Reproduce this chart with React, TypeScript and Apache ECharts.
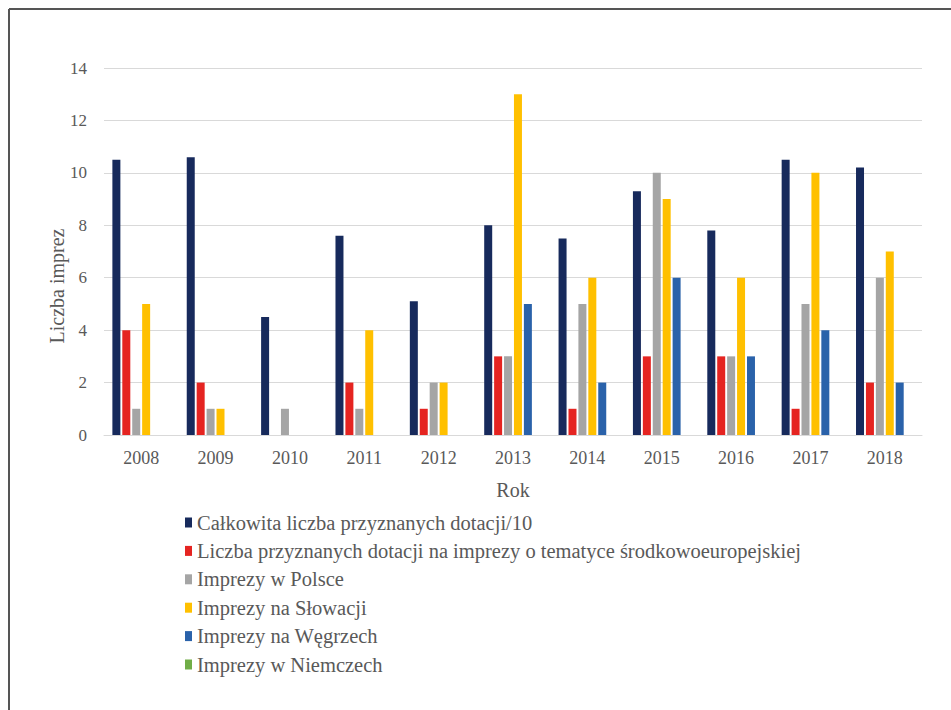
import React, { useEffect, useRef } from "react";
import * as echarts from "echarts";

const years = ["2008", "2009", "2010", "2011", "2012", "2013", "2014", "2015", "2016", "2017", "2018"];
const seriesNames = [
  "Całkowita liczba przyznanych dotacji/10",
  "Liczba przyznanych dotacji na imprezy o tematyce środkowoeuropejskiej",
  "Imprezy w Polsce",
  "Imprezy na Słowacji",
  "Imprezy na Węgrzech",
  "Imprezy w Niemczech",
];
const totalGrants = [10.5, 10.6, 4.5, 7.6, 5.1, 8, 7.5, 9.3, 7.8, 10.5, 10.2];
const ceGrants = [4, 2, 0, 2, 1, 3, 1, 3, 3, 1, 2];
const poland = [1, 1, 1, 1, 2, 3, 5, 10, 3, 5, 6];
const slovakia = [5, 1, 0, 4, 2, 13, 6, 9, 6, 10, 7];
const hungary = [0, 0, 0, 0, 0, 5, 2, 6, 3, 4, 2];
const germany = [0, 0, 0, 0, 0, 0, 0, 0, 0, 0, 0];
const seriesValues = [totalGrants, ceGrants, poland, slovakia, hungary, germany];
const colors = ["#172a5c", "#e52421", "#a5a5a5", "#ffc000", "#2a62aa", "#70ad47"];
const yTicks = { min: 0, max: 14, interval: 2 };

const FONT = "Liberation Serif";
const TXT = "#595959";

export default function App() {
  const ref = useRef<HTMLDivElement>(null);
  useEffect(() => {
    if (!ref.current) return;
    const chart = echarts.init(ref.current, undefined, { renderer: "svg" });
    chart.setOption({
      animation: false,
      backgroundColor: "#ffffff",
      textStyle: { fontFamily: FONT },
      grid: { left: 104, right: 29, top: 68, bottom: 275, containLabel: false },
      xAxis: {
        type: "category",
        data: years,
        axisLine: { show: true, lineStyle: { color: "#d9d9d9", width: 1 } },
        axisTick: { show: false },
        axisLabel: { color: TXT, fontFamily: FONT, fontSize: 18, margin: 14 },
      },
      yAxis: {
        type: "value",
        min: yTicks.min,
        max: yTicks.max,
        interval: yTicks.interval,
        axisLine: { show: false },
        axisTick: { show: false },
        splitLine: { lineStyle: { color: "#d9d9d9", width: 1 } },
        axisLabel: { color: TXT, fontFamily: FONT, fontSize: 17, margin: 17 },
      },
      legend: {
        orient: "vertical",
        left: 180,
        top: 507,
        itemWidth: 7,
        itemHeight: 10,
        itemGap: 7.4,
        icon: "rect",
        textStyle: { color: TXT, fontFamily: FONT, fontSize: 20.5, lineHeight: 20 },
        data: seriesNames,
      },
      graphic: [
        {
          type: "text",
          x: 57,
          y: 286,
          rotation: Math.PI / 2,
          style: {
            text: "Liczba imprez",
            fontFamily: FONT,
            fontSize: 20,
            fill: TXT,
            align: "center",
            verticalAlign: "middle",
          },
        },
        {
          type: "text",
          x: 513,
          y: 490,
          style: {
            text: "Rok",
            fontFamily: FONT,
            fontSize: 20,
            fill: TXT,
            align: "center",
            verticalAlign: "middle",
          },
        },
        {
          type: "line",
          shape: { x1: 9, y1: 9, x2: 951, y2: 9 },
          style: { stroke: "#555555", lineWidth: 2 },
        },
        {
          type: "line",
          shape: { x1: 9, y1: 9, x2: 9, y2: 710 },
          style: { stroke: "#555555", lineWidth: 2 },
        },
      ],
      series: seriesNames.map((name, i) => ({
        name,
        type: "bar",
        data: seriesValues[i],
        barWidth: 8,
        barGap: "24%",
        itemStyle: { color: colors[i] },
      })),
    });
    return () => chart.dispose();
  }, []);
  return (
    <div
      ref={ref}
      style={{ position: "fixed", left: 0, top: 0, width: 951, height: 710 }}
    />
  );
}
